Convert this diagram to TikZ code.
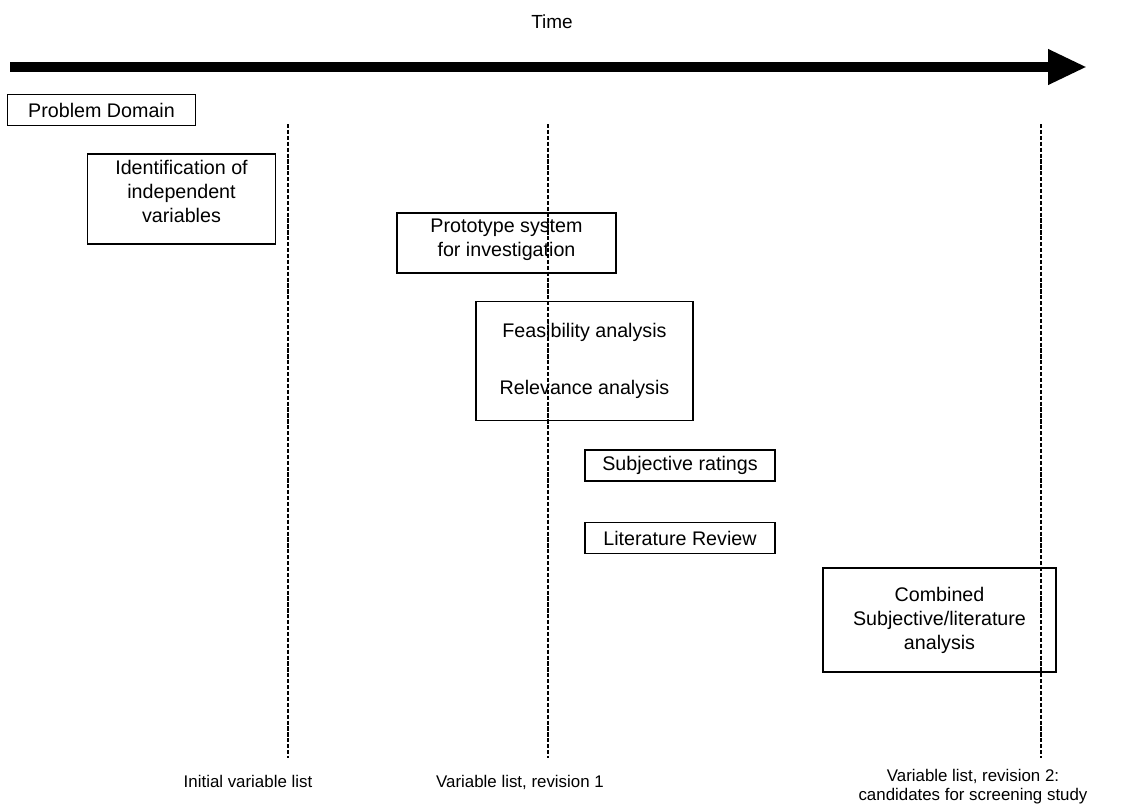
\documentclass[tikz,border=0pt]{standalone}
\usepackage{fontspec}
\setmainfont{Liberation Sans}
\usetikzlibrary{arrows.meta, positioning}
\tikzset{
  phase/.style={rectangle, draw=black, line width=1.1pt, align=center, inner sep=2pt, font=\fontsize{14}{17}\selectfont},
  milestone/.style={draw=black, line width=0.8pt, dash pattern=on 3pt off 1.2pt},
  timeline/.style={line width=7pt, -{Triangle[length=0.975cm, width=0.825cm]}},
  caption/.style={align=center, font=\fontsize{12}{14}\selectfont}
}
\begin{document}
\begin{tikzpicture}[x=0.025cm, y=-0.025cm]
  \useasboundingbox (0,0) rectangle (1123,808);

  % Zeitachse
  \node (time) [font=\fontsize{13.5}{16}\selectfont] at (552,22) {Time};
  \coordinate (tstart) at (10,67);
  \coordinate (tend) at (1087,67);
  \draw [timeline] (tstart) -- (tend);

  % Meilensteine (gestrichelt)
  \coordinate (mile1top) at (288,124);
  \coordinate (mile1bot) at (288,758);
  \coordinate (mile2top) at (548,124);
  \coordinate (mile2bot) at (548,758);
  \coordinate (mile3top) at (1041,124);
  \coordinate (mile3bot) at (1041,758);
  \draw [milestone] (mile1top) -- (mile1bot);
  \draw [milestone] (mile2top) -- (mile2bot);
  \draw [milestone] (mile3top) -- (mile3bot);

  % Phasen
  \node (domain) [phase, minimum width=4.7cm, minimum height=0.775cm] at (101.5,110) {Problem Domain};
  \node (ident) [phase, minimum width=4.7cm, minimum height=2.25cm] at (181.5,199) {Identification of\\independent\\variables\\[-6pt]\mbox{}};
  \node (proto) [phase, minimum width=5.475cm, minimum height=1.5cm] at (506.5,243) {Prototype system\\for investigation\\[-10pt]\mbox{}};
  \node (feas) [phase, minimum width=5.425cm, minimum height=2.975cm] at (584.5,361) {Feasibility analysis\\[24pt]Relevance analysis};
  \node (subj) [phase, minimum width=4.75cm, minimum height=0.775cm] at (680,465.5) {Subjective ratings};
  \node (lit) [phase, minimum width=4.75cm, minimum height=0.775cm] at (680,538) {Literature Review};
  \node (comb) [phase, minimum width=5.825cm, minimum height=2.6cm] at (939.5,620) {Combined\\Subjective/literature\\analysis};

  % Ergebnislisten
  \node (list0) [caption, below=0.3cm of mile1bot, xshift=-1cm] {Initial variable list};
  \node (list1) [caption, below=0.3cm of mile2bot, xshift=-0.7cm] {Variable list, revision 1};
  \node (list2) [caption, below=0.15cm of mile3bot, xshift=-1.7cm] {Variable list, revision 2:\\candidates for screening study};

\end{tikzpicture}
\end{document}
